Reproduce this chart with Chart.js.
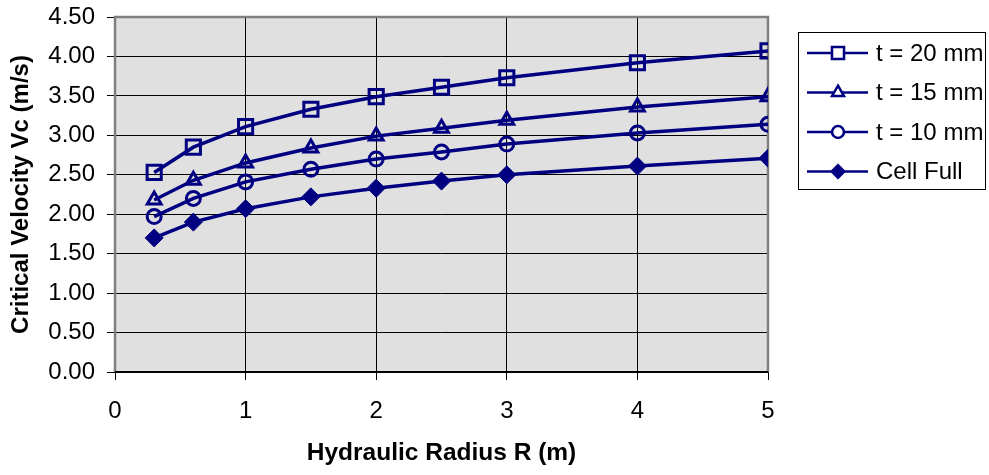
<!DOCTYPE html>
<html>
<head>
<meta charset="utf-8">
<script src="https://cdn.jsdelivr.net/npm/chart.js@4.4.1/dist/chart.umd.min.js"></script>
<style>
  body { margin: 0; background: #fff; }
  #chart { display: block; }
</style>
</head>
<body>
<canvas id="chart" width="989" height="475"></canvas>
<script>
// --- data ---
const radius = [0.3, 0.6, 1, 1.5, 2, 2.5, 3, 4, 5];
const t20 = [2.53, 2.85, 3.11, 3.33, 3.49, 3.61, 3.73, 3.92, 4.07];
const t15 = [2.18, 2.43, 2.65, 2.84, 2.99, 3.09, 3.19, 3.36, 3.49];
const t10 = [1.97, 2.20, 2.41, 2.57, 2.70, 2.79, 2.89, 3.03, 3.14];
const cellFull = [1.70, 1.90, 2.07, 2.22, 2.33, 2.42, 2.50, 2.61, 2.71];

const seriesLabels = ["t = 20 mm", "t = 15 mm", "t = 10 mm", "Cell Full"];
const xTitle = "Hydraulic Radius R (m)";
const yTitle = "Critical Velocity Vc (m/s)";

const navy = "#000080";
const fontFamily = "'Liberation Sans', Arial, sans-serif";

const toPoints = ys => radius.map((x, i) => ({ x: x, y: ys[i] }));

function series(label, ys, style, r, filled) {
  return {
    label: label,
    data: toPoints(ys),
    borderColor: navy,
    backgroundColor: navy,
    borderWidth: 3.5,
    pointStyle: style,
    pointRadius: r,
    pointHoverRadius: r,
    pointBorderColor: navy,
    pointBackgroundColor: filled ? navy : "rgba(0,0,0,0)",
    pointBorderWidth: filled ? 1 : 3,
    tension: 0
  };
}

// plot background + frame
const plotFrame = {
  id: "plotFrame",
  beforeDraw(chart) {
    const { ctx, chartArea: a } = chart;
    ctx.save();
    ctx.fillStyle = "#e0e0e0";
    ctx.fillRect(a.left, a.top, a.right - a.left, a.bottom - a.top);
    ctx.restore();
  },
  beforeDatasetsDraw(chart) {
    const { ctx, chartArea: a } = chart;
    ctx.save();
    ctx.strokeStyle = "#808080";
    ctx.lineWidth = 2.5;
    ctx.beginPath();
    ctx.moveTo(a.left, a.bottom);
    ctx.lineTo(a.left, a.top);
    ctx.lineTo(a.right, a.top);
    ctx.lineTo(a.right, a.bottom);
    ctx.stroke();
    ctx.strokeStyle = "#000";
    ctx.lineWidth = 2;
    ctx.beginPath();
    ctx.moveTo(a.left, a.bottom);
    ctx.lineTo(a.right, a.bottom);
    ctx.stroke();
    ctx.restore();
  }
};

// legend box at the top right, line + marker + text
const boxLegend = {
  id: "boxLegend",
  afterDraw(chart) {
    const ctx = chart.ctx;
    const left = 798, top = 32, w = 188, h = 158, rowH = 39.5;
    ctx.save();
    ctx.fillStyle = "#fff";
    ctx.fillRect(left, top, w, h);
    ctx.strokeStyle = "#000";
    ctx.lineWidth = 1;
    ctx.strokeRect(left + 0.5, top + 0.5, w - 1, h - 1);
    chart.data.datasets.forEach((ds, i) => {
      const y = top + 21 + i * rowH;
      ctx.strokeStyle = navy;
      ctx.lineWidth = 2.5;
      ctx.beginPath();
      ctx.moveTo(807, y);
      ctx.lineTo(868, y);
      ctx.stroke();
      ctx.fillStyle = ds.pointBackgroundColor === navy ? navy : "#fff";
      ctx.lineWidth = ds.pointBorderWidth * 0.85;
      Chart.helpers.drawPoint(ctx, {
        pointStyle: ds.pointStyle,
        radius: ds.pointRadius * 0.85,
        rotation: 0,
        borderWidth: ds.pointBorderWidth * 0.85
      }, 838, y);
      ctx.fillStyle = "#000";
      ctx.font = "24px " + fontFamily;
      ctx.textBaseline = "middle";
      ctx.textAlign = "left";
      ctx.fillText(ds.label, 876, y + 1);
    });
    ctx.restore();
  }
};

const chart = new Chart(document.getElementById("chart"), {
  type: "line",
  data: {
    datasets: [
      series(seriesLabels[0], t20, "rect", 10, false),
      series(seriesLabels[1], t15, "triangle", 8, false),
      series(seriesLabels[2], t10, "circle", 7, false),
      series(seriesLabels[3], cellFull, "rectRot", 9, true)
    ]
  },
  options: {
    responsive: false,
    devicePixelRatio: 1,
    animation: false,
    events: [],
    layout: { padding: { top: 17, right: 221, left: 0, bottom: 0 } },
    plugins: {
      legend: { display: false },
      tooltip: { enabled: false }
    },
    scales: {
      x: {
        type: "linear",
        min: 0,
        max: 5,
        afterFit: scale => { scale.height = 103; },
        border: { display: false },
        grid: { color: "#000", lineWidth: 1, tickLength: 8, drawTicks: true },
        ticks: {
          stepSize: 1,
          padding: 17,
          color: "#000",
          font: { family: fontFamily, size: 24 }
        },
        title: {
          display: true,
          text: xTitle,
          color: "#000",
          padding: { top: 0, bottom: 7 },
          font: { family: fontFamily, size: 24.5, weight: "bold" }
        }
      },
      y: {
        min: 0,
        max: 4.5,
        afterFit: scale => {
          scale.width = 115;
          scale.paddingTop = 0;
          scale.paddingBottom = 0;
        },
        border: { display: false },
        grid: { color: "#000", lineWidth: 1, tickLength: 8, drawTicks: true },
        ticks: {
          stepSize: 0.5,
          padding: 12,
          color: "#000",
          font: { family: fontFamily, size: 24 },
          callback: v => v.toFixed(2)
        },
        title: {
          display: true,
          text: yTitle,
          color: "#000",
          padding: { top: 7, bottom: 0 },
          font: { family: fontFamily, size: 24, weight: "bold" }
        }
      }
    }
  },
  plugins: [plotFrame, boxLegend]
});
</script>
</body>
</html>
